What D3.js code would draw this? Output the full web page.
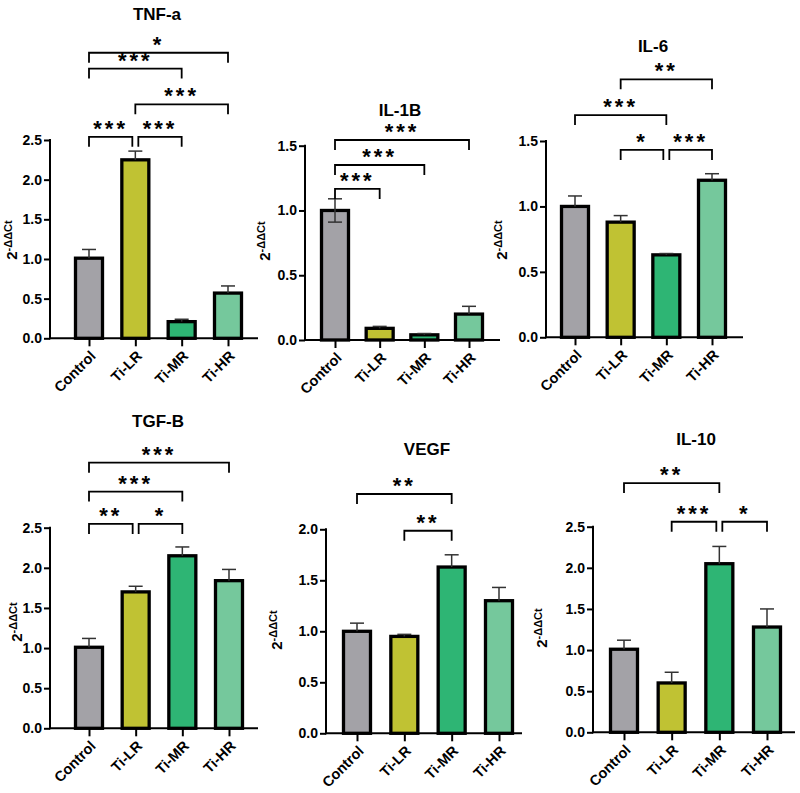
<!DOCTYPE html>
<html>
<head>
<meta charset="utf-8">
<script src="https://cdn.jsdelivr.net/npm/d3@7"></script>
<style>
  body { margin: 0; background: #fff; }
  svg { display: block; font-family: "Liberation Sans", Arial, sans-serif; font-weight: bold; }
</style>
</head>
<body>
<div id="chart"></div>
<script>
// groups + fill colours
var categories = ['Control', 'Ti-LR', 'Ti-MR', 'Ti-HR'];
var barColors = ['#a3a2a7', '#c0c233', '#2eb574', '#75c89c'];

// means and SEM
var tnfMean = [1.01, 2.25, 0.21, 0.57];
var tnfErr = [0.11, 0.11, 0.03, 0.09];
var il1bMean = [1.00, 0.09, 0.04, 0.20];
var il1bErr = [0.09, 0.015, 0.01, 0.06];
var il6Mean = [1.00, 0.88, 0.63, 1.20];
var il6Err = [0.08, 0.05, 0.01, 0.05];
var tgfMean = [1.01, 1.70, 2.15, 1.84];
var tgfErr = [0.11, 0.07, 0.11, 0.14];
var vegfMean = [1.00, 0.95, 1.63, 1.30];
var vegfErr = [0.08, 0.02, 0.12, 0.13];
var il10Mean = [1.01, 0.60, 2.05, 1.28];
var il10Err = [0.11, 0.13, 0.21, 0.22];

// y tick labels
var ticks25 = [0, 0.5, 1.0, 1.5, 2.0, 2.5];
var ticks20 = [0, 0.5, 1.0, 1.5, 2.0];
var ticks15 = [0, 0.5, 1.0, 1.5];

// significance: [from, to, bracket level (y units), stars]
var tnfSig = [[0, 1, 2.54, '***'], [1, 2, 2.54, '***'], [1, 3, 2.95, '***'], [0, 2, 3.40, '***'], [0, 3, 3.60, '*']];
var il1bSig = [[0, 1, 1.166, '***'], [0, 2, 1.351, '***'], [0, 3, 1.544, '***']];
var il6Sig = [[1, 2, 1.432, '*'], [2, 3, 1.432, '***'], [0, 2, 1.698, '***'], [1, 3, 1.971, '**']];
var tgfSig = [[0, 1, 2.547, '**'], [1, 2, 2.547, '*'], [0, 2, 2.95, '***'], [0, 3, 3.31, '***']];
var vegfSig = [[1, 2, 1.986, '**'], [0, 2, 2.346, '**']];
var il10Sig = [[1, 2, 2.56, '***'], [2, 3, 2.56, '*'], [0, 2, 3.03, '**']];

var W = 800, H = 793;
var svg = d3.select('#chart').append('svg').attr('width', W).attr('height', H);

// panel placement: axis x, first/last bar centre, axis end, y of 0 and of top tick
var panels = [
  {title: 'TNF-a', mean: tnfMean, err: tnfErr, sig: tnfSig, ticks: ticks25,
   ax: 50, c0: 89, c1: 228, axEnd: 258, y0: 338.3, yTop: 140, titleX: 157, titleY: 20, labX: 12, labY: 240},
  {title: 'IL-1B', mean: il1bMean, err: il1bErr, sig: il1bSig, ticks: ticks15, both: [0],
   ax: 305, c0: 335, c1: 469, axEnd: 500, y0: 340, yTop: 145.7, titleX: 400, titleY: 116, labX: 265, labY: 241},
  {title: 'IL-6', mean: il6Mean, err: il6Err, sig: il6Sig, ticks: ticks15,
   ax: 546, c0: 575, c1: 712, axEnd: 743, y0: 337.3, yTop: 141, titleX: 653, titleY: 52, labX: 502, labY: 240},
  {title: 'TGF-B', mean: tgfMean, err: tgfErr, sig: tgfSig, ticks: ticks25,
   ax: 50, c0: 89, c1: 229, axEnd: 258, y0: 728.3, yTop: 527.7, titleX: 158, titleY: 427, labX: 17, labY: 622},
  {title: 'VEGF', mean: vegfMean, err: vegfErr, sig: vegfSig, ticks: ticks20,
   ax: 326, c0: 357, c1: 499, axEnd: 522, y0: 733.3, yTop: 529.3, titleX: 427, titleY: 455, labX: 277, labY: 630},
  {title: 'IL-10', mean: il10Mean, err: il10Err, sig: il10Sig, ticks: ticks25,
   ax: 593, c0: 624, c1: 767, axEnd: 795, y0: 732.3, yTop: 526.7, titleX: 696, titleY: 445, labX: 542, labY: 628}
];

panels.forEach(function (p) {
  var g = svg.append('g');
  var topVal = p.ticks[p.ticks.length - 1];

  var x = d3.scalePoint().domain(categories).range([p.c0, p.c1]);
  var y = d3.scaleLinear().domain([0, topVal]).range([p.y0, p.yTop]);

  // title
  g.append('text')
    .attr('x', p.titleX).attr('y', p.titleY)
    .attr('text-anchor', 'middle')
    .style('font-size', '17px')
    .text(p.title);

  // y label 2^-ΔΔCt
  var lab = g.append('text')
    .attr('transform', 'translate(' + p.labX + ',' + p.labY + ') rotate(-90)')
    .attr('text-anchor', 'middle')
    .attr('dy', '0.35em')
    .style('font-size', '15px');
  lab.append('tspan').text('2');
  lab.append('tspan').attr('dy', '-0.5em').style('font-size', '11px').text('-ΔΔCt');

  // bars
  g.selectAll('rect.bar')
    .data(p.mean)
    .enter().append('rect')
    .attr('class', 'bar')
    .attr('x', function (d, i) { return x(categories[i]) - 13.5; })
    .attr('width', 27)
    .attr('y', function (d) { return y(d); })
    .attr('height', function (d) { return y(0) - y(d); })
    .style('fill', function (d, i) { return barColors[i]; })
    .style('stroke', '#000')
    .style('stroke-width', 3.3);

  // error bars
  var both = p.both || [];
  p.mean.forEach(function (m, i) {
    var cx = x(categories[i]);
    var lo = both.indexOf(i) >= 0 ? m - p.err[i] : m;
    var hi = m + p.err[i];
    var eg = g.append('g').style('stroke', '#333').style('stroke-width', 1.5);
    eg.append('line').attr('x1', cx).attr('x2', cx).attr('y1', y(lo)).attr('y2', y(hi));
    eg.append('line').attr('x1', cx - 7).attr('x2', cx + 7).attr('y1', y(hi)).attr('y2', y(hi));
    if (lo < m) {
      eg.append('line').attr('x1', cx - 7).attr('x2', cx + 7).attr('y1', y(lo)).attr('y2', y(lo));
    }
  });

  // axes
  var yAxis = d3.axisLeft(y).tickValues(p.ticks).tickFormat(d3.format('.1f')).tickSize(6).tickSizeOuter(0).tickPadding(2);
  var ya = g.append('g').attr('transform', 'translate(' + p.ax + ',0)').call(yAxis);
  ya.select('.domain').remove();
  ya.selectAll('line').style('stroke', '#000').style('stroke-width', 2);
  ya.selectAll('text').style('font-size', '14px').style('fill', '#000').style('font-family', null);

  g.append('line')
    .attr('x1', p.ax).attr('x2', p.ax)
    .attr('y1', p.y0 + 1).attr('y2', p.yTop - 1)
    .style('stroke', '#000').style('stroke-width', 2);

  var xAxis = d3.axisBottom(x).tickSize(8).tickSizeOuter(0).tickFormat('');
  var xa = g.append('g').attr('transform', 'translate(0,' + p.y0 + ')').call(xAxis);
  xa.select('.domain').remove();
  xa.selectAll('line').style('stroke', '#000').style('stroke-width', 2);

  g.append('line')
    .attr('x1', p.ax - 1).attr('x2', p.axEnd)
    .attr('y1', p.y0).attr('y2', p.y0)
    .style('stroke', '#000').style('stroke-width', 2);

  // category labels
  g.selectAll('text.cat')
    .data(categories)
    .enter().append('text')
    .attr('class', 'cat')
    .attr('transform', function (d) {
      return 'translate(' + (x(d) + 4) + ',' + (p.y0 + 15) + ') rotate(-45)';
    })
    .attr('text-anchor', 'end')
    .attr('dy', '0.35em')
    .style('font-size', '14.5px')
    .text(function (d) { return d; });

  // significance brackets
  p.sig.forEach(function (s) {
    var a = x(categories[s[0]]), b = x(categories[s[1]]);
    // pull in shared ends of brackets sitting on the same level
    p.sig.forEach(function (o) {
      if (o === s || o[2] !== s[2]) return;
      if (o[0] === s[1]) b -= 3;
      if (o[1] === s[0]) a += 3;
    });
    var yy = y(s[2]);
    g.append('path')
      .attr('d', 'M' + a + ',' + (yy + 10) + 'V' + yy + 'H' + b + 'V' + (yy + 10))
      .style('fill', 'none').style('stroke', '#000').style('stroke-width', 1.8);
    g.append('text')
      .attr('x', (a + b) / 2).attr('y', yy - 1)
      .attr('text-anchor', 'middle')
      .style('font-size', '22px')
      .style('letter-spacing', '3px')
      .text(s[3]);
  });
});
</script>
</body>
</html>
